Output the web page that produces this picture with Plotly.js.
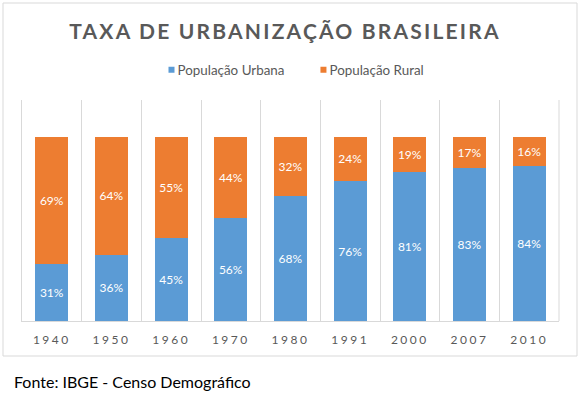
<!DOCTYPE html>
<html>
<head>
<meta charset="utf-8">
<script src="https://cdn.plot.ly/plotly-3.0.1.min.js"></script>
<style>
  html, body { margin: 0; padding: 0; background: #fff; }
  #chart { width: 584px; height: 394px; }
  .gtitle { letter-spacing: 2.2px; }
  .xtick text { letter-spacing: 2.5px; }
  .legend .legendtext { transform: translateX(-14px); }
</style>
</head>
<body>
<div id="chart"></div>
<script>
const years = ["1940", "1950", "1960", "1970", "1980", "1991", "2000", "2007", "2010"];
const urbana = [31, 36, 45, 56, 68, 76, 81, 83, 84];
const rural = [69, 64, 55, 44, 32, 24, 19, 17, 16];
const seriesNames = ["População Urbana", "População Rural"];
const seriesColors = ["#5B9BD5", "#ED7D31"];
const titleText = "TAXA DE URBANIZAÇÃO BRASILEIRA";
const sourceText = "Fonte: IBGE - Censo Demográfico";

const FONT = "Lato, 'Open Sans', sans-serif";
const labelFont = { family: FONT, size: 12, color: "#ffffff" };

function barTrace(name, values, color) {
  return {
    type: "bar", name: name, x: years, y: values, legendgroup: name, showlegend: false,
    marker: { color: color },
    texttemplate: "%{y}%", textposition: "inside", insidetextanchor: "middle",
    textangle: 0, constraintext: "none", textfont: labelFont, hoverinfo: "none"
  };
}
function legendTrace(name, color) {
  return {
    type: "scatter", mode: "markers", name: name, legendgroup: name, x: [null], y: [null],
    marker: { symbol: "square", size: 6, color: color }, hoverinfo: "none"
  };
}

const traces = [
  barTrace(seriesNames[0], urbana, seriesColors[0]),
  barTrace(seriesNames[1], rural, seriesColors[1]),
  legendTrace(seriesNames[0], seriesColors[0]),
  legendTrace(seriesNames[1], seriesColors[1])
];

const layout = {
  width: 584, height: 394,
  margin: { l: 22, r: 25, t: 100, b: 73 },
  paper_bgcolor: "#ffffff", plot_bgcolor: "#ffffff",
  barmode: "stack", bargap: 0.45,
  title: {
    text: "<b>" + titleText + "</b>",
    x: (285 - 22) / 537, xref: "paper", xanchor: "center",
    y: 1 - 32 / 394, yref: "container", yanchor: "middle",
    font: { family: FONT, size: 21, color: "#595959" }
  },
  legend: {
    orientation: "h", x: (151.5 - 22) / 537, xanchor: "left", y: (321 - 70) / 221, yanchor: "middle",
    font: { family: FONT, size: 13.4, color: "#595959" },
    itemwidth: 30, traceorder: "normal"
  },
  xaxis: {
    type: "category", range: [-0.5, years.length - 0.5],
    tickson: "boundaries", showgrid: true, gridcolor: "#d9d9d9", gridwidth: 1,
    showline: true, linecolor: "#d9d9d9", linewidth: 1,
    ticks: "", ticklen: 0, ticklabelstandoff: 8,
    tickfont: { family: FONT, size: 12, color: "#595959" },
    fixedrange: true
  },
  yaxis: {
    range: [0, 120], showgrid: false, zeroline: false, showticklabels: false,
    showline: true, linecolor: "#d9d9d9", linewidth: 1, ticks: "", fixedrange: true
  },
  shapes: [
    {
      type: "rect", xref: "paper", yref: "paper", layer: "below",
      x0: (3 - 22) / 537, x1: (577 - 22) / 537,
      y0: (321 - 356) / 221, y1: (321 - 3) / 221,
      line: { color: "#d9d9d9", width: 1 }, fillcolor: "rgba(0,0,0,0)"
    },
    {
      type: "line", xref: "paper", yref: "paper", layer: "below",
      x0: 1, x1: 1, y0: 0, y1: 1,
      line: { color: "#d9d9d9", width: 1 }
    }
  ],
  annotations: [
    {
      text: sourceText, xref: "paper", yref: "paper",
      x: (12 - 22) / 537, xanchor: "left", y: (321 - 381) / 221, yanchor: "middle",
      showarrow: false,
      font: { family: FONT, size: 16, color: "#000000" }
    }
  ],
  showlegend: true
};

Plotly.newPlot("chart", traces, layout, { staticPlot: true, displayModeBar: false });
</script>
</body>
</html>
